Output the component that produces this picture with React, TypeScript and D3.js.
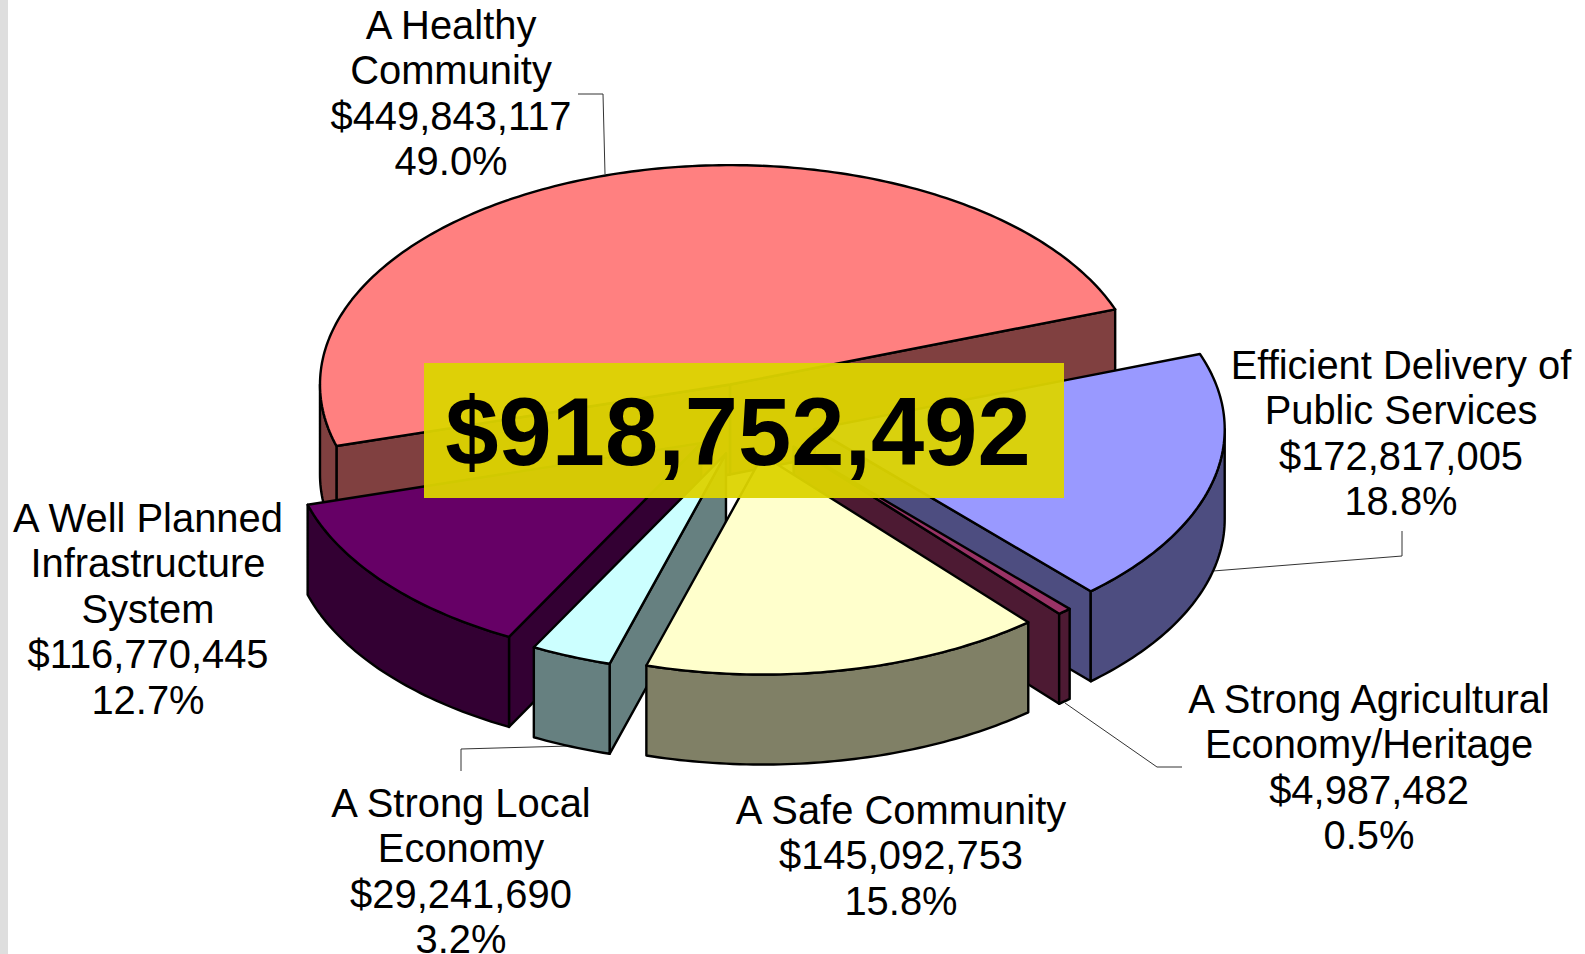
import * as d3 from 'd3'

const WIDTH = 1585
const HEIGHT = 954

const NAMES = [
  ['A Healthy', 'Community'],
  ['Efficient Delivery of', 'Public Services'],
  ['A Strong Agricultural', 'Economy/Heritage'],
  ['A Safe Community'],
  ['A Strong Local', 'Economy'],
  ['A Well Planned', 'Infrastructure', 'System']
]
const VALUES = [449843117, 172817005, 4987482, 145092753, 29241690, 116770445]
const AMOUNTS = ['$449,843,117', '$172,817,005', '$4,987,482', '$145,092,753', '$29,241,690', '$116,770,445']
const PERCENTS = ['49.0%', '18.8%', '0.5%', '15.8%', '3.2%', '12.7%']
const TOTAL_LABEL = '$918,752,492'
const COLORS = ['#ff8080', '#9999ff', '#993366', '#ffffcc', '#ccffff', '#660066']
const EXPLODE = [0.18, 0.155, 0.15, 0.15, 0.155, 0.16]

// small screen nudges, the original's 3D view is not a clean ellipse
const NUDGE_X = [0, 0, 0, -3, -3, -1]
const NUDGE_Y = [0, -1, 0, 1, 0, -1]

// painter's order, back to front
const DRAW_ORDER = [0, 1, 2, 5, 4, 3]

// label centre x and the baseline of the first line
const LABEL_POS = [
  [451, 38.5],
  [1401, 378.5],
  [1369, 712.5],
  [901, 823.5],
  [461, 816.5],
  [148, 531.5]
]
const LEADERS = [
  [[578, 94], [603, 94], [605, 174]],
  [[1213, 571], [1402, 556], [1402, 531]],
  [[1065, 703], [1157, 767], [1182, 767]],
  [[570, 746], [461, 749], [461, 771]]
]

const CX = 753
const CY = 422
const R = 410
const TILT = 0.535
const DEPTH = 90
const START = (-106.3 * Math.PI) / 180

const linePath = d3.line()

function wallColor(c: string) {
  const rgb = d3.rgb(c)
  return d3.rgb(rgb.r / 2, rgb.g / 2, rgb.b / 2).formatHex()
}

function Slice({ arc, index }: { arc: any; index: number }) {
  const s = arc.startAngle
  const e = arc.endAngle
  const mid = (s + e) / 2
  const ox = CX + NUDGE_X[index] + R * EXPLODE[index] * Math.sin(mid)
  const oy = CY + NUDGE_Y[index] - R * TILT * EXPLODE[index] * Math.cos(mid)
  const pt = (a: number, dz = 0): [number, number] => [
    ox + R * Math.sin(a),
    oy - R * TILT * Math.cos(a) + dz
  ]
  const sweep = (a0: number, a1: number) => {
    const n = Math.max(2, Math.ceil(Math.abs(a1 - a0) * 60))
    return d3.range(n + 1).map(i => a0 + ((a1 - a0) * i) / n)
  }
  const apex: [number, number] = [ox, oy]
  const apexLow: [number, number] = [ox, oy + DEPTH]
  const color = COLORS[index]
  const wall = wallColor(color)

  const cutWall = (a: number) => [apex, pt(a), pt(a, DEPTH), apexLow]

  // cut faces are only seen when they turn towards the viewer
  const cuts: number[] = []
  if (Math.sin(s) < 0) cuts.push(s)
  if (Math.sin(e) > 0) cuts.push(e)
  cuts.sort((a, b) => pt(a)[1] - pt(b)[1])

  // rim is visible only on the front half of the ellipse
  const rims: [number, number][] = []
  const pi = Math.PI
  ;[[pi / 2, (3 * pi) / 2], [-(3 * pi) / 2, -pi / 2]].forEach(([lo, hi]) => {
    const a0 = Math.max(s, lo)
    const a1 = Math.min(e, hi)
    if (a1 > a0) rims.push([a0, a1])
  })

  const common = { stroke: '#000', strokeWidth: 2.4, strokeLinejoin: 'round' as const }

  return (
    <g>
      {cuts.map((a, i) => (
        <path key={i} d={linePath(cutWall(a)) + 'Z'} fill={wall} {...common} />
      ))}
      {rims.map(([a0, a1], i) => {
        const top = sweep(a0, a1).map(a => pt(a))
        const bottom = sweep(a1, a0).map(a => pt(a, DEPTH))
        return <path key={i} d={linePath([...top, ...bottom]) + 'Z'} fill={wall} {...common} />
      })}
      <path d={linePath([apex, ...sweep(s, e).map(a => pt(a))]) + 'Z'} fill={color} {...common} />
    </g>
  )
}

export default function App() {
  const arcs = d3.pie<number>()
    .sort(null)
    .startAngle(START)
    .endAngle(START + 2 * Math.PI)(VALUES)

  return (
    <svg
      width={WIDTH}
      height={HEIGHT}
      style={{ position: 'absolute', left: 0, top: 0, display: 'block', background: '#fff' }}
      fontFamily="'Liberation Sans', Arial, sans-serif"
    >
      <rect x={0} y={0} width={8} height={HEIGHT} fill="#dedede" />

      {LEADERS.map((pts, i) => (
        <path key={i} d={linePath(pts as [number, number][]) ?? ''} fill="none" stroke="#333" strokeWidth={1} />
      ))}

      {DRAW_ORDER.map(i => (
        <Slice key={i} arc={arcs[i]} index={i} />
      ))}

      {/* total banner */}
      <rect x={424} y={363} width={640} height={135} fill="#dcd400" fillOpacity={0.95} />
      <text x={738} y={465} textAnchor="middle" fontSize={95.7} fontWeight="700" fill="#000">
        {TOTAL_LABEL}
      </text>

      {NAMES.map((name, i) => {
        const lines = [...name, AMOUNTS[i], PERCENTS[i]]
        return (
          <text key={i} textAnchor="middle" fontSize={39.9} fill="#000">
            {lines.map((line, j) => (
              <tspan key={j} x={LABEL_POS[i][0]} y={LABEL_POS[i][1] + j * 45.5}>
                {line}
              </tspan>
            ))}
          </text>
        )
      })}
    </svg>
  )
}
